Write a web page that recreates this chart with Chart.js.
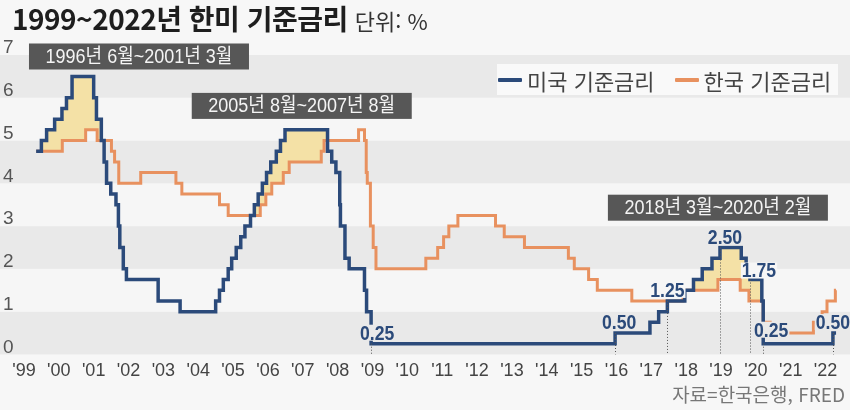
<!DOCTYPE html>
<html lang="ko">
<head>
<meta charset="utf-8">
<script src="https://cdn.jsdelivr.net/npm/chart.js@4.4.1/dist/chart.umd.min.js"></script>
<style>
  html, body { margin: 0; padding: 0; background: #f7f7f7; }
  #wrap { position: relative; width: 850px; height: 410px; overflow: hidden; }
  #chart { position: absolute; left: 0; top: 0; }
  .narrow { font-family: "Liberation Sans Narrow", "Noto Sans CJK KR", sans-serif; }
  #title { position: absolute; left: 12px; top: 3px; white-space: nowrap; line-height: 30px; }
  #title b { font-size: 28px; color: #1e1e1e; letter-spacing: -0.5px; }
  #title span { font-size: 22px; color: #333; margin-left: 7px; }
  #legend { position: absolute; left: 497px; top: 64px; width: 341px; height: 31px;
    background: #f9f9f9; display: flex; align-items: center; font-size: 22px; color: #444;
    font-family: "Noto Sans CJK KR", sans-serif; white-space: nowrap; }
  #legend i { display: inline-block; width: 24px; height: 4px; margin: 0 5px 0 1px; border-radius: 1px; }
  #source { position: absolute; right: 5px; top: 380px; font-size: 19px; color: #777; white-space: nowrap; }
</style>
</head>
<body>
<div id="wrap">
  <canvas id="chart" width="850" height="410"></canvas>
  <div id="title" class="narrow"><b>1999~2022년 한미 기준금리</b><span>단위: %</span></div>
  <div id="legend"><i style="background:#2b4a7a"></i>미국 기준금리<i style="background:#e8915f; margin-left:20px"></i>한국 기준금리</div>
  <div id="source" class="narrow">자료=한국은행, FRED</div>
</div>
<script>
var yearTicks = ["'99", "'00", "'01", "'02", "'03", "'04", "'05", "'06", "'07", "'08", "'09", "'10",
  "'11", "'12", "'13", "'14", "'15", "'16", "'17", "'18", "'19", "'20", "'21", "'22"];

// 미국 기준금리 (변경 시점, 연 단위 소수)
var usDates = [1999.35, 1999.5, 1999.65, 1999.88, 2000.09, 2000.22, 2000.38,
  2001.0, 2001.08, 2001.22, 2001.3, 2001.37, 2001.49, 2001.64, 2001.71, 2001.75, 2001.85, 2001.94,
  2002.85, 2003.48, 2004.5, 2004.61, 2004.72, 2004.86, 2004.96,
  2005.09, 2005.22, 2005.34, 2005.5, 2005.61, 2005.72, 2005.84, 2005.96,
  2006.08, 2006.24, 2006.36, 2006.49, 2007.71, 2007.83, 2007.95,
  2008.06, 2008.08, 2008.21, 2008.33, 2008.77, 2008.83, 2008.96,
  2015.96, 2016.96, 2017.21, 2017.46, 2017.96, 2018.21, 2018.46, 2018.74, 2018.97,
  2019.58, 2019.72, 2019.83, 2020.17, 2020.21, 2022.21, 2022.3];
var usRates = [4.75, 5.0, 5.25, 5.5, 5.75, 6.0, 6.5,
  6.0, 5.5, 5.0, 4.5, 4.0, 3.75, 3.5, 3.0, 2.5, 2.0, 1.75,
  1.25, 1.0, 1.25, 1.5, 1.75, 2.0, 2.25,
  2.5, 2.75, 3.0, 3.25, 3.5, 3.75, 4.0, 4.25,
  4.5, 4.75, 5.0, 5.25, 4.75, 4.5, 4.25,
  3.5, 3.0, 2.25, 2.0, 1.5, 1.0, 0.25,
  0.5, 0.75, 1.0, 1.25, 1.5, 1.75, 2.0, 2.25, 2.5,
  2.25, 2.0, 1.75, 1.25, 0.25, 0.5, 0.5];

// 한국 기준금리
var krDates = [1999.35, 2000.1, 2000.77, 2001.1, 2001.51, 2001.6, 2001.72,
  2002.35, 2003.36, 2003.53, 2004.61, 2004.86, 2005.78, 2005.94,
  2006.11, 2006.44, 2006.61, 2007.53, 2007.61, 2008.6, 2008.77, 2008.82, 2008.85, 2008.94,
  2009.02, 2009.1, 2010.53, 2010.87, 2011.04, 2011.19, 2011.45, 2012.53, 2012.78, 2013.36,
  2014.62, 2014.79, 2015.2, 2015.45, 2016.44, 2017.91, 2018.91, 2019.55, 2019.8,
  2020.21, 2020.41, 2021.65, 2021.9, 2022.04, 2022.28, 2022.3];
var krRates = [4.75, 5.0, 5.25, 5.0, 4.75, 4.5, 4.0,
  4.25, 4.0, 3.75, 3.5, 3.25, 3.5, 3.75,
  4.0, 4.25, 4.5, 4.75, 5.0, 5.25, 5.0, 4.25, 4.0, 3.0,
  2.5, 2.0, 2.25, 2.5, 2.75, 3.0, 3.25, 3.0, 2.75, 2.5,
  2.25, 2.0, 1.75, 1.5, 1.25, 1.5, 1.75, 1.5, 1.25,
  0.75, 0.5, 0.75, 1.0, 1.25, 1.5, 1.5];

// 미국 금리 표시 지점
var markDates = [2008.96, 2015.96, 2017.46, 2018.97, 2019.83, 2020.21, 2022.21];
var markRates = [0.25, 0.5, 1.25, 2.5, 1.75, 0.25, 0.5];
var markTexts = ["0.25", "0.50", "1.25", "2.50", "1.75", "0.25", "0.50"];

// 미국 금리가 더 높았던 기간
var periodTexts = ["1996년 6월~2001년 3월", "2005년 8월~2007년 8월", "2018년 3월~2020년 2월"];

// 배치 (픽셀 이동, 상자 기준점)
var markShift = [[6, -11], [4, -11], [0, -11], [5, -10], [9, -9], [8, -14], [0, -11]];
var periodAnchor = [[2002.30, 6.965], [2006.97, 5.81], [2018.91, 3.43]];

var navy = "#2b4a7a";
var orange = "#e8915f";
var bandGray = "#e9e9e9";
var bandWhite = "#f6f6f6";

function toPoints(dates, rates) {
  var pts = [];
  for (var i = 0; i < dates.length; i++) {
    pts.push({ x: dates[i], y: rates[i] });
  }
  return pts;
}

// 글자를 가로로 좁혀서 그림
function narrowText(ctx, text, x, y, squeeze) {
  ctx.save();
  ctx.translate(x, y);
  ctx.scale(squeeze, 1);
  ctx.fillText(text, 0, 0);
  ctx.restore();
}

var bandPlugin = {
  id: "bands",
  beforeDraw: function(chart) {
    var ctx = chart.ctx;
    var ys = chart.scales.y;
    ctx.save();
    for (var v = 0; v < 7; v++) {
      var top = ys.getPixelForValue(v + 1);
      var bot = ys.getPixelForValue(v);
      ctx.fillStyle = v % 2 === 0 ? bandGray : bandWhite;
      ctx.fillRect(0, top, chart.width, bot - top);
    }
    ctx.restore();
  }
};

var notePlugin = {
  id: "notes",
  afterDatasetsDraw: function(chart) {
    var ctx = chart.ctx;
    var xs = chart.scales.x;
    var ys = chart.scales.y;
    ctx.save();

    // 점선
    ctx.strokeStyle = "#555";
    ctx.lineWidth = 1;
    ctx.setLineDash([1, 2]);
    for (var i = 0; i < markDates.length; i++) {
      var px = Math.round(xs.getPixelForValue(markDates[i])) + 0.5;
      ctx.beginPath();
      ctx.moveTo(px, ys.getPixelForValue(markRates[i]));
      ctx.lineTo(px, ys.getPixelForValue(0));
      ctx.stroke();
    }
    ctx.setLineDash([]);

    // 수치
    ctx.font = "bold 21px 'Liberation Sans', sans-serif";
    ctx.textAlign = "center";
    ctx.textBaseline = "middle";
    for (var j = 0; j < markTexts.length; j++) {
      var cx = xs.getPixelForValue(markDates[j]) + markShift[j][0];
      var cy = ys.getPixelForValue(markRates[j]) + markShift[j][1];
      var w = ctx.measureText(markTexts[j]).width * 0.84 + 2;
      ctx.fillStyle = Math.floor(ys.getValueForPixel(cy)) % 2 === 0 ? bandGray : bandWhite;
      ctx.fillRect(cx - w / 2, cy - 8, w, 16);
      ctx.fillStyle = navy;
      narrowText(ctx, markTexts[j], cx, cy + 1, 0.84);
    }

    // 기간 상자
    ctx.font = "20px 'Liberation Sans', 'Noto Sans CJK KR', sans-serif";
    for (var k = 0; k < periodTexts.length; k++) {
      var bx = xs.getPixelForValue(periodAnchor[k][0]);
      var by = ys.getPixelForValue(periodAnchor[k][1]);
      ctx.fillStyle = "#575757";
      ctx.fillRect(bx - 110, by - 13, 220, 26);
      ctx.fillStyle = "#f4f4f4";
      narrowText(ctx, periodTexts[k], bx, by + 1, 0.9);
    }
    ctx.restore();
  }
};

var ctx = document.getElementById("chart").getContext("2d");
var rateChart = new Chart(ctx, {
  type: "line",
  data: {
    datasets: [{
      label: "미국 기준금리",
      data: toPoints(usDates, usRates),
      borderColor: navy,
      borderWidth: 3.5,
      stepped: true,
      pointRadius: 0,
      fill: { target: 1, above: "#f4e1a6", below: "rgba(0,0,0,0)" }
    }, {
      label: "한국 기준금리",
      data: toPoints(krDates, krRates),
      borderColor: orange,
      borderWidth: 3,
      stepped: true,
      pointRadius: 0,
      fill: false
    }]
  },
  options: {
    responsive: false,
    animation: false,
    layout: { padding: { top: 55, bottom: 22, left: 0, right: 0 } },
    plugins: {
      legend: { display: false },
      tooltip: { enabled: false },
      filler: { drawTime: "beforeDatasetsDraw" }
    },
    scales: {
      x: {
        type: "linear",
        min: 1998.37,
        max: 2022.70,
        grid: { display: false, drawTicks: false },
        border: { display: false },
        ticks: {
          stepSize: 1,
          includeBounds: false,
          autoSkip: false,
          maxRotation: 0,
          padding: 6,
          color: "#444",
          font: { family: "'Liberation Sans', sans-serif", size: 18 },
          callback: function(value) {
            return yearTicks[value - 1999];
          }
        }
      },
      y: {
        min: 0,
        max: 7,
        grid: { display: false, drawTicks: false },
        border: { display: false },
        ticks: {
          stepSize: 1,
          mirror: true,
          padding: 1,
          labelOffset: -7,
          color: "#555",
          font: { family: "'Liberation Sans', sans-serif", size: 19 }
        }
      }
    }
  },
  plugins: [bandPlugin, notePlugin]
});
</script>
</body>
</html>
